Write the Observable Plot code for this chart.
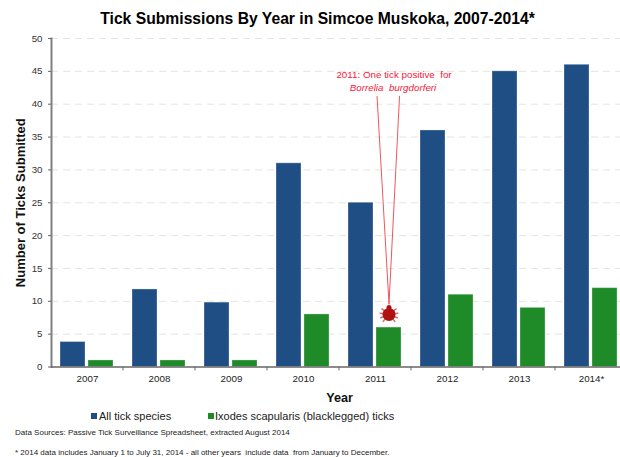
<!DOCTYPE html>
<html>
<head>
<meta charset="utf-8">
<script src="https://cdn.jsdelivr.net/npm/d3@7"></script>
<script src="https://cdn.jsdelivr.net/npm/@observablehq/plot@0.6"></script>
<style>
  html, body { margin: 0; padding: 0; background: #fff; width: 620px; height: 457px; overflow: hidden; }
  body { font-family: "Liberation Sans", Arial, sans-serif; position: relative; }
  h1 { margin: 0; height: 30px; line-height: 38px; font-size: 15.7px; font-weight: bold; color: #000; text-align: center; width: 635px; white-space: nowrap; }
  #legend { position: absolute; top: 408px; left: 0; font-size: 11px; color: #222; height: 16px; line-height: 16px; }
  #legend span { position: absolute; white-space: nowrap; }
  #legend i { position: absolute; width: 6px; height: 6px; top: 5px; }
  .note { position: absolute; left: 15px; font-size: 8px; line-height: 9px; color: #222; white-space: pre; }
</style>
</head>
<body>
<h1>Tick Submissions By Year in Simcoe Muskoka, 2007-2014*</h1>
<div id="chart"></div>
<div id="legend"></div>
<div class="note" style="top:428px">Data Sources: Passive Tick Surveillance Spreadsheet, extracted August 2014</div>
<div class="note" style="top:448px">* 2014 data includes January 1 to July 31, 2014 - all other years  include data  from January to December.</div>
<script>
const years = ["2007", "2008", "2009", "2010", "2011", "2012", "2013", "2014*"];
const allTicks = [3.8, 11.8, 9.8, 31, 25, 36, 45, 46];
const ixodes = [1, 1, 1, 8, 6, 11, 9, 12];
const seriesNames = ["All tick species", "Ixodes scapularis (blacklegged) ticks"];
const seriesColors = ["#1f4e85", "#1e8a28"];
const yTicks = [0, 5, 10, 15, 20, 25, 30, 35, 40, 45, 50];
const gridTicks = [5, 10, 15, 20, 25, 30, 35, 40, 45, 50];

const positiveYear = "2011";
const positiveCount = 8;
const calloutTitle = "2011: One tick positive  for";
const calloutOrganism = "Borrelia  burgdorferi";

// Leaders run from just above the tick up to the callout text.
const leaders = [
  {rotate: -3.3, length: 208},
  {rotate: 2.9, length: 208}
];
const legAngles = [-140, -112, -82, -52, 52, 82, 112, 140];
const tickRed = "#b01212";
const calloutRed = "#f5203a";

const bars = years.flatMap((year, i) => [
  {year, series: seriesNames[0], value: allTicks[i]},
  {year, series: seriesNames[1], value: ixodes[i]}
]);

// A plain line with no arrowhead, for leaders and tick legs.
const stroke = {draw(ctx, l) { ctx.moveTo(0, 0); ctx.lineTo(0, -l); }};

const onTick = {fx: () => positiveYear, x: () => seriesNames[1]};

const chart = Plot.plot({
  width: 620,
  height: 376,
  marginLeft: 50,
  marginRight: 0,
  marginTop: 8,
  marginBottom: 39.5,
  style: {fontFamily: "Liberation Sans, Arial, sans-serif", background: "#fff", overflow: "hidden"},
  fx: {domain: years, range: [50, 627], padding: 0},
  x: {domain: seriesNames, range: [59.3, 112.8], paddingInner: 0.093, paddingOuter: 0, axis: null},
  y: {domain: [0, 50]},
  length: {type: "identity"},
  color: {domain: seriesNames, range: seriesColors},
  marks: [
    Plot.ruleY(gridTicks, {stroke: "#e6e4dc", strokeWidth: 1, strokeDasharray: "7 5"}),
    Plot.barY(bars, {fx: "year", x: "series", y: "value", fill: "series", stroke: "#fff", strokeOpacity: 0.3, strokeWidth: 1}),
    Plot.frame({anchor: "left", stroke: "#808080", strokeWidth: 2, facet: "super"}),
    Plot.frame({anchor: "bottom", stroke: "#666", strokeWidth: 1.4, facet: "super"}),
    // Category boundaries on the baseline.
    Plot.ruleX(years.slice(1), {fx: d => d, x: () => seriesNames[0], y1: 0, y2: -0.6, dx: -22, stroke: "#666", strokeWidth: 1}),
    Plot.axisY({ticks: yTicks, tickSize: 3, tickPadding: 6, label: null, fontSize: 9.7, color: "#333", stroke: "#666"}),
    Plot.axisFx({anchor: "bottom", tickSize: 0, tickPadding: 8, label: null, fontSize: 9.8, color: "#222"}),
    Plot.text(["Number of Ticks Submitted"], {frameAnchor: "left", textAnchor: "middle", rotate: -90, dx: -31, fontSize: 13, fontWeight: "bold", fill: "#111", facet: "super"}),
    Plot.text(["Year"], {frameAnchor: "bottom", dy: 35, fontSize: 12.6, fontWeight: "bold", fill: "#111", facet: "super"}),
    // Callout for the single positive tick.
    Plot.text([calloutTitle], {...onTick, y: () => 44.5, dx: 5, fontSize: 9.8, fill: calloutRed}),
    Plot.text([calloutOrganism], {...onTick, y: () => 42.45, dx: 4, fontSize: 9.8, fontStyle: "italic", fill: calloutRed}),
    Plot.vector(leaders, {
      ...onTick, y: () => positiveCount + 1.6,
      rotate: "rotate", length: "length", anchor: "start", shape: stroke,
      stroke: "#f0565c", strokeWidth: 1
    }),
    Plot.vector(legAngles, {
      ...onTick, y: () => positiveCount,
      rotate: d => d, length: 9, anchor: "start", shape: stroke,
      stroke: tickRed, strokeWidth: 1.5, strokeOpacity: 0.6
    }),
    Plot.dot([positiveCount], {...onTick, y: d => d, r: 6.5, fill: tickRed}),
    Plot.dot([positiveCount], {...onTick, y: d => d, dy: -7, r: 2.5, fill: tickRed})
  ]
});
document.getElementById("chart").appendChild(chart);

// Legend row beneath the plot.
const legendPositions = [{swatch: 91, text: 99}, {swatch: 208, text: 215}];
const legend = document.getElementById("legend");
seriesNames.forEach((name, i) => {
  const swatch = document.createElement("i");
  swatch.style.left = legendPositions[i].swatch + "px";
  swatch.style.background = seriesColors[i];
  const label = document.createElement("span");
  label.style.left = legendPositions[i].text + "px";
  label.textContent = name;
  legend.append(swatch, label);
});
</script>
</body>
</html>
